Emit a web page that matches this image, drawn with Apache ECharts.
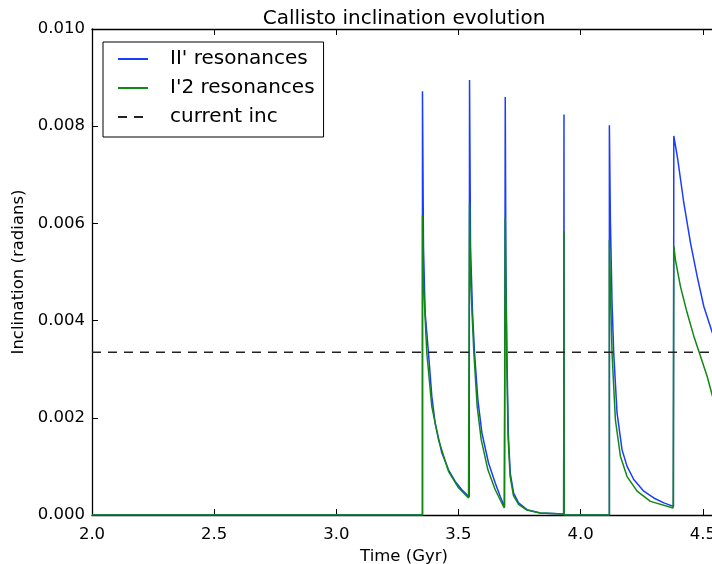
<!DOCTYPE html>
<html>
<head>
<meta charset="utf-8">
<script src="https://cdn.jsdelivr.net/npm/echarts@6/dist/echarts.min.js"></script>
<style>
  html, body { margin: 0; padding: 0; background: #fff; }
  #main { width: 712px; height: 564px; }
</style>
</head>
<body>
<div id="main"></div>
<script>
// 时间范围 (Gyr)
var timeMin = 2.0;
var timeMax = 4.554;
var xTicks = [2.0, 2.5, 3.0, 3.5, 4.0, 4.5];

// 当前倾角
var currentInc = 0.00335;

// II' resonances  [time, inclination]
var iiResonances = [
    [2.0, 0], [3.3526, 0],
    [3.3526, 0.00872], [3.3567, 0.00553], [3.3635, 0.00416], [3.3772, 0.00333],
    [3.3909, 0.00244], [3.4045, 0.00189], [3.4318, 0.00128], [3.4591, 0.00093],
    [3.4865, 0.00069], [3.5138, 0.00052], [3.5439, 0.00037],
    [3.5452, 0.00895], [3.5493, 0.00553], [3.5575, 0.00416], [3.5657, 0.00333],
    [3.5794, 0.00237], [3.5958, 0.00169], [3.6230, 0.00107], [3.6504, 0.00066],
    [3.6709, 0.00038], [3.6886, 0.000165],
    [3.6914, 0.00860], [3.6941, 0.00512], [3.6982, 0.00333], [3.7037, 0.00169],
    [3.7119, 0.00086], [3.7256, 0.00045], [3.7460, 0.00025], [3.7802, 0.00011],
    [3.8348, 0.00004], [3.9305, 0.00002],
    [3.9318, 0.00824], [3.9325, 0], [4.1176, 0],
    [4.1176, 0.00802], [4.1217, 0.00608], [4.1285, 0.00436], [4.1354, 0.00333],
    [4.1490, 0.00210], [4.1695, 0.00134], [4.1900, 0.00100], [4.2173, 0.00073],
    [4.2583, 0.00049], [4.2993, 0.00035], [4.3403, 0.00025], [4.3799, 0.000177],
    [4.3813, 0.00780], [4.3977, 0.00731], [4.4223, 0.00642], [4.4496, 0.00560],
    [4.4769, 0.00491], [4.5042, 0.00429], [4.5397, 0.00374]
];

// I'2 resonances  [time, inclination]
var i2Resonances = [
    [2.0, 0], [3.3526, 0],
    [3.3526, 0.00617], [3.3560, 0.00484], [3.3704, 0.00333], [3.3909, 0.00223],
    [3.4182, 0.00155], [3.4591, 0.00090], [3.5001, 0.00056], [3.5411, 0.00035],
    [3.5452, 0.00640], [3.5493, 0.00484], [3.5630, 0.00333], [3.5766, 0.00223],
    [3.5930, 0.00155], [3.6204, 0.00093], [3.6504, 0.00052], [3.6872, 0.000144],
    [3.6914, 0.00611], [3.6941, 0.00470], [3.6975, 0.00320], [3.7030, 0.00160],
    [3.7112, 0.00080], [3.7250, 0.00040], [3.7460, 0.00022], [3.7802, 0.00010],
    [3.8348, 0.00004], [3.9305, 0.00002],
    [3.9318, 0.00584], [3.9325, 0], [4.1176, 0],
    [4.1176, 0.00566], [4.1217, 0.00470], [4.1285, 0.00333], [4.1422, 0.00196],
    [4.1627, 0.00121], [4.1900, 0.00079], [4.2310, 0.00049], [4.2856, 0.00028],
    [4.3785, 0.000144],
    [4.3813, 0.00554], [4.3880, 0.00525], [4.4086, 0.00470], [4.4359, 0.00416],
    [4.4632, 0.00368], [4.4909, 0.00326], [4.5179, 0.00285], [4.5397, 0.00244]
];

var chart = echarts.init(document.getElementById('main'));

var fontName = 'DejaVu Sans';

var option = {
    animation: false,
    backgroundColor: '#fff',
    textStyle: { fontFamily: fontName },
    title: {
        text: 'Callisto inclination evolution',
        left: 399,
        textAlign: 'center',
        top: 4,
        textStyle: { fontFamily: fontName, fontSize: 20, fontWeight: 'normal', color: '#000' }
    },
    legend: {
        orient: 'vertical',
        left: 103,
        top: 42,
        padding: [7, 9, 10, 14],
        itemGap: 9,
        itemWidth: 30,
        itemHeight: 20,
        borderColor: '#000',
        borderWidth: 1,
        backgroundColor: '#fff',
        itemStyle: { color: 'rgba(0,0,0,0)', borderWidth: 0, opacity: 0 },
        textStyle: { fontFamily: fontName, fontSize: 20, color: '#000', padding: [0, 0, 0, 17] },
        data: ["II' resonances", "I'2 resonances", 'current inc']
    },
    grid: {
        left: 92,
        top: 29,
        right: -4,
        bottom: 49,
        outerBoundsMode: 'none'
    },
    xAxis: [{
        type: 'value',
        min: timeMin,
        max: timeMax,
        interval: 0.5,
        name: 'Time (Gyr)',
        nameLocation: 'middle',
        nameGap: 27,
        nameTextStyle: { fontFamily: fontName, fontSize: 16.5, color: '#000' },
        axisLine: { lineStyle: { color: '#000', width: 1.3 } },
        axisTick: { inside: true, length: 6, lineStyle: { color: '#000' } },
        axisLabel: {
            margin: 11,
            fontFamily: fontName,
            fontSize: 16.5,
            color: '#000',
            showMaxLabel: false,
            formatter: function (v) { return xTicks.indexOf(v) >= 0 ? v.toFixed(1) : ''; }
        },
        splitLine: { show: false }
    }, {
        type: 'value',
        position: 'top',
        min: timeMin,
        max: timeMax,
        interval: 0.5,
        axisLine: { lineStyle: { color: '#000', width: 1.3 } },
        axisTick: { inside: true, length: 6, lineStyle: { color: '#000' } },
        axisLabel: { show: false },
        splitLine: { show: false }
    }],
    yAxis: {
        type: 'value',
        min: 0,
        max: 0.010,
        interval: 0.002,
        name: 'Inclination (radians)',
        nameLocation: 'middle',
        nameGap: 56,
        nameTextStyle: { fontFamily: fontName, fontSize: 16.5, color: '#000' },
        axisLine: { show: true, lineStyle: { color: '#000', width: 1.3 } },
        axisTick: { show: true, inside: true, length: 6, lineStyle: { color: '#000' } },
        axisLabel: {
            margin: 7,
            fontFamily: fontName,
            fontSize: 16.5,
            color: '#000',
            formatter: function (v) { return v.toFixed(3); }
        },
        splitLine: { show: false }
    },
    series: [{
        name: "II' resonances",
        type: 'line',
        symbol: 'none',
        color: '#1a3cff',
        lineStyle: { color: '#1a3cff', width: 1.5 },
        data: iiResonances
    }, {
        name: "I'2 resonances",
        type: 'line',
        symbol: 'none',
        color: '#118811',
        lineStyle: { color: '#118811', width: 1.5 },
        data: i2Resonances
    }, {
        name: 'current inc',
        type: 'line',
        symbol: 'none',
        color: '#222',
        lineStyle: { color: '#222', width: 1.4, type: [9, 7] },
        data: [[timeMin, currentInc], [timeMax, currentInc]]
    }]
};

chart.setOption(option);
</script>
</body>
</html>
